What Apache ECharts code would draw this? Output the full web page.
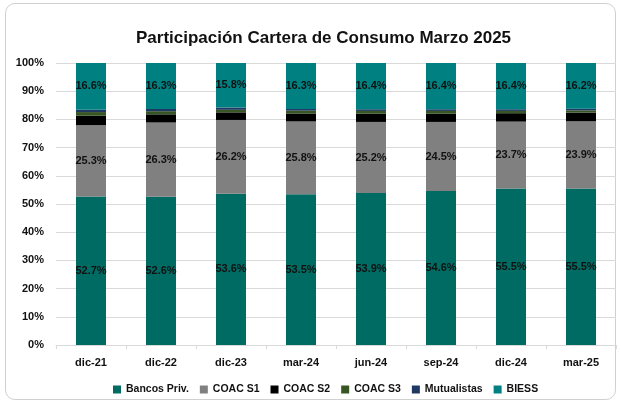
<!DOCTYPE html>
<html>
<head>
<meta charset="utf-8">
<script src="https://cdn.jsdelivr.net/npm/echarts@6/dist/echarts.min.js"></script>
<style>
  html, body { margin: 0; padding: 0; background: #fff; }
  .frame {
    position: absolute; left: 5px; top: 3px; width: 611px; height: 397px;
    border: 1px solid #d0d0d0; border-radius: 10px; box-sizing: border-box;
  }
  #chart { position: absolute; left: 0; top: 0; width: 621px; height: 404px; }
</style>
</head>
<body>
<div class="frame"></div>
<div id="chart"></div>
<script>
const categories = ['dic-21', 'dic-22', 'dic-23', 'mar-24', 'jun-24', 'sep-24', 'dic-24', 'mar-25']
const bancosPriv = [52.7, 52.6, 53.6, 53.5, 53.9, 54.6, 55.5, 55.5]
const coacS1 = [25.3, 26.3, 26.2, 25.8, 25.2, 24.5, 23.7, 23.9]
const coacS2 = [3.3, 2.9, 2.7, 2.8, 2.9, 2.9, 3.0, 3.0]
const coacS3 = [1.3, 1.1, 0.9, 1.0, 1.0, 1.0, 0.8, 0.8]
const mutualistas = [0.8, 0.8, 0.8, 0.6, 0.6, 0.6, 0.6, 0.6]
const biess = [16.6, 16.3, 15.8, 16.3, 16.4, 16.4, 16.4, 16.2]
const yTicks = [0, 10, 20, 30, 40, 50, 60, 70, 80, 90, 100]

const font = '"Liberation Sans", Arial, sans-serif'
const textColor = '#111'

function makeSeries(name, data, color, showLabel) {
  return {
    name: name,
    type: 'bar',
    stack: 'total',
    barWidth: 30,
    data: data,
    itemStyle: { color: color },
    label: {
      show: showLabel,
      position: 'inside',
      color: textColor,
      fontWeight: 'bold',
      fontSize: 11,
      fontFamily: font,
      formatter: (p) => p.value.toFixed(1) + '%'
    },
    emphasis: { disabled: true }
  }
}

const myChart = echarts.init(document.getElementById('chart'))
const option = {
  animation: false,
  title: {
    text: 'Participación Cartera de Consumo Marzo 2025',
    left: 131,
    top: 25,
    textStyle: { fontFamily: font, fontSize: 17, fontWeight: 'bold', color: '#111' }
  },
  legend: {
    bottom: 4,
    left: 108,
    itemWidth: 8,
    itemHeight: 8,
    itemGap: 11,
    icon: 'rect',
    textStyle: { fontFamily: font, fontSize: 10.5, fontWeight: 'bold', color: textColor },
    data: ['Bancos Priv.', 'COAC S1', 'COAC S2', 'COAC S3', 'Mutualistas', 'BIESS']
  },
  grid: {
    left: 56,
    right: 5,
    top: 63,
    bottom: 59
  },
  xAxis: {
    type: 'category',
    data: categories,
    axisLine: { show: true, lineStyle: { color: '#d9d9d9' } },
    axisTick: { show: true, length: 4, lineStyle: { color: '#d9d9d9' } },
    axisLabel: { color: textColor, fontFamily: font, fontSize: 11, fontWeight: 'bold', margin: 12 }
  },
  yAxis: {
    type: 'value',
    min: yTicks[0],
    max: yTicks[yTicks.length - 1],
    interval: 10,
    axisLine: { show: false },
    axisTick: { show: false },
    splitLine: { show: true, lineStyle: { color: '#d9d9d9' } },
    axisLabel: {
      color: textColor, fontFamily: font, fontSize: 11, fontWeight: 'bold', margin: 12,
      formatter: (v) => v + '%'
    }
  },
  series: [
    makeSeries('Bancos Priv.', bancosPriv, '#006b63', true),
    makeSeries('COAC S1', coacS1, '#808080', true),
    makeSeries('COAC S2', coacS2, '#000000', false),
    makeSeries('COAC S3', coacS3, '#375623', false),
    makeSeries('Mutualistas', mutualistas, '#1f3864', false),
    makeSeries('BIESS', biess, '#008080', true)
  ]
}
myChart.setOption(option)
</script>
</body>
</html>
